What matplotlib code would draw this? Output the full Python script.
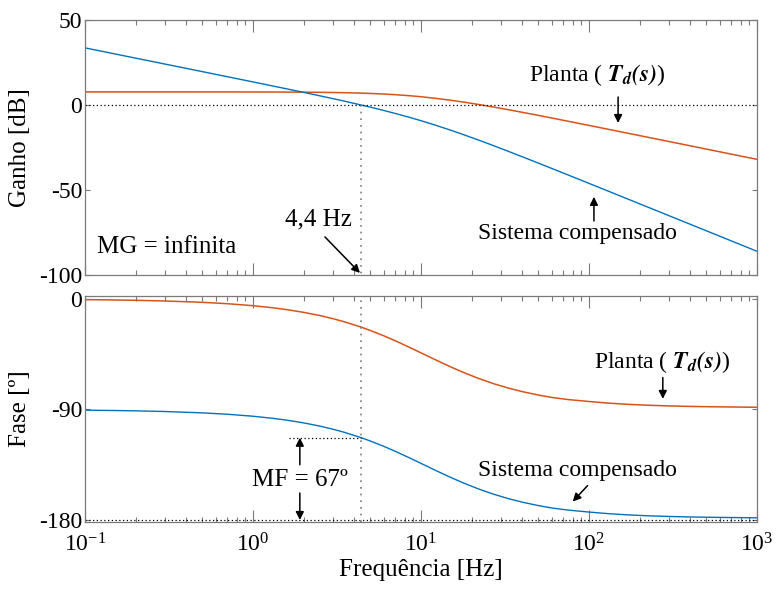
import numpy as np
import matplotlib
matplotlib.use('Agg')
import matplotlib.pyplot as plt

freq_hz = [0.1, 0.15, 0.2, 0.3, 0.5, 0.7, 1, 1.3, 1.6, 2, 2.5, 3, 3.5, 4.4, 5, 6, 7, 8.5, 10,
           12, 15, 18, 22, 27, 33, 40, 50, 60, 75, 100, 130, 170, 220, 300, 400, 550, 750, 1000]

# Ganho [dB]
ganho_planta = [7.70, 7.70, 7.70, 7.70, 7.69, 7.68, 7.66, 7.63, 7.60, 7.54, 7.46, 7.35, 7.23, 6.98,
                6.80, 6.45, 6.08, 5.48, 4.86, 4.02, 2.81, 1.68, 0.32, -1.19, -2.74, -4.29, -6.12,
                -7.65, -9.54, -12.01, -14.27, -16.59, -18.82, -21.51, -24.00, -26.77, -29.46, -31.96]
ganho_comp = [33.61, 30.08, 27.58, 24.06, 19.62, 16.68, 13.57, 11.26, 9.42, 7.43, 5.40, 3.71, 2.26,
              0.00, -1.27, -3.21, -4.92, -7.20, -9.24, -11.66, -14.80, -17.52, -20.62, -23.91,
              -27.20, -30.42, -34.20, -37.31, -41.14, -46.10, -50.64, -55.29, -59.76, -65.15,
              -70.14, -75.67, -81.06, -86.05]

# Fase [graus]
fase_planta = [-0.55, -0.83, -1.10, -1.65, -2.75, -3.85, -5.49, -7.13, -8.75, -10.89, -13.52, -16.09,
               -18.60, -22.93, -25.68, -29.98, -33.94, -39.26, -43.88, -49.09, -55.27, -59.98,
               -64.70, -68.94, -72.51, -75.43, -78.25, -80.17, -81.9, -83.5, -84.8, -85.8, -86.5,
               -87.1, -87.5, -87.8, -88.0, -88.2]
fase_comp = [-90.55, -90.83, -91.10, -91.65, -92.75, -93.85, -95.49, -97.13, -98.75, -100.89,
             -103.52, -106.09, -108.60, -112.93, -115.68, -119.98, -123.94, -129.26, -133.88,
             -139.09, -145.27, -149.98, -154.70, -158.94, -162.51, -165.43, -168.25, -170.17,
             -171.9, -173.5, -174.8, -175.8, -176.5, -177.1, -177.5, -177.8, -178.0, -178.2]

f_cruz = 4.4      # frequência de cruzamento [Hz]
fase_cruz = -113  # fase no cruzamento

azul = '#0072BD'
laranja = '#D95319'
cinza = '#7a7a7a'

plt.rcParams['font.family'] = ['Liberation Serif', 'DejaVu Serif']
plt.rcParams['mathtext.fontset'] = 'stix'
plt.rcParams['axes.unicode_minus'] = False
plt.rcParams['font.size'] = 17

fig = plt.figure(figsize=(7.79, 5.90), dpi=100)
ax1 = fig.add_axes([85 / 779, 1 - 275 / 590, 672 / 779, 255 / 590])
ax2 = fig.add_axes([85 / 779, 1 - 522 / 590, 672 / 779, 226 / 590])

for ax in (ax1, ax2):
    ax.set_xscale('log')
    ax.set_xlim(0.1, 1000)
    for s in ax.spines.values():
        s.set_color(cinza)
        s.set_linewidth(0.9)
    ax.tick_params(which='both', direction='in', top=True, right=True, color=cinza, width=0.8)
    ax.tick_params(axis='x', which='major', length=8.4, pad=8)
    ax.tick_params(axis='x', which='minor', length=3.6)
    ax.tick_params(axis='y', which='major', length=3.6, pad=2)
    ax.tick_params(axis='y', which='minor', left=False, right=False)

# --- Ganho ---
ax1.plot(freq_hz, ganho_planta, color=laranja, lw=1.1)
ax1.plot(freq_hz, ganho_comp, color=azul, lw=1.0)
ax1.axhline(0, color='k', ls=(0, (1, 2)), lw=0.9)
ax1.plot([f_cruz, f_cruz], [0, -100], color=cinza, ls=(0, (1, 3)), lw=1.2)
ax1.set_ylim(-100, 50)
ax1.set_yticks([-100, -50, 0, 50])
ax1.tick_params(axis='x', labelbottom=False)
ax1.set_ylabel('Ganho [dB]', fontsize=18, labelpad=6)

seta = dict(arrowstyle='-|>', color='k', lw=1.1, mutation_scale=12, shrinkA=0, shrinkB=0)
ax1.text(0.118, -83.5, 'MG = infinita', fontsize=18, ha='left', va='center')
ax1.text(2.45, -67.5, '4,4 Hz', fontsize=18, ha='center', va='center')
ax1.annotate('', xy=(4.33, -98.8), xytext=(2.68, -77.6), arrowprops=seta)
ax1.text(112, 17.6, r'Planta ( $\mathbfit{T_d(s)}$)', fontsize=17, ha='center', va='center')
ax1.annotate('', xy=(149, -10.6), xytext=(149, 4.7), arrowprops=seta)
ax1.text(85, -75.3, 'Sistema compensado', fontsize=17, ha='center', va='center')
ax1.annotate('', xy=(107, -54), xytext=(107, -68.2), arrowprops=seta)

# --- Fase ---
ax2.plot(freq_hz, fase_planta, color=laranja, lw=1.1)
ax2.plot(freq_hz, fase_comp, color=azul, lw=1.0)
ax2.axhline(-180, color='k', ls=(0, (1, 2)), lw=0.9)
ax2.axvline(f_cruz, color=cinza, ls=(0, (1, 3)), lw=1.2)
ax2.plot([1.64, f_cruz], [fase_cruz, fase_cruz], color='k', ls=(0, (1, 2)), lw=0.9)
ax2.set_ylim(-181.6, 2.4)
ax2.set_yticks([-180, -90, 0])
ax2.set_ylabel('Fase [º]', fontsize=18, labelpad=6)
ax2.set_xlabel('Frequência [Hz]', fontsize=18, labelpad=2)

ax2.text(1.9, -147, 'MF = 67º', fontsize=18, ha='center', va='center')
ax2.annotate('', xy=(1.9, fase_cruz), xytext=(1.9, -135), arrowprops=seta)
ax2.annotate('', xy=(1.9, -180), xytext=(1.9, -158), arrowprops=seta)
ax2.text(275, -51.3, r'Planta ( $\mathbfit{T_d(s)}$)', fontsize=17, ha='center', va='center')
ax2.annotate('', xy=(275, -81.4), xytext=(275, -64), arrowprops=seta)
ax2.text(85, -140, 'Sistema compensado', fontsize=17, ha='center', va='center')
ax2.annotate('', xy=(80, -165), xytext=(98, -152), arrowprops=seta)

fig.savefig('out.png', dpi=100)
